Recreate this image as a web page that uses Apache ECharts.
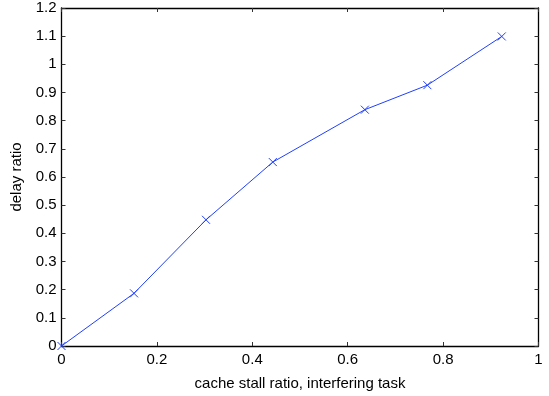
<!DOCTYPE html>
<html><head><meta charset="utf-8">
<script src="https://cdn.jsdelivr.net/npm/echarts@6/dist/echarts.min.js"></script>
<style>html,body{margin:0;padding:0;background:#fff}#c{width:549px;height:396px}</style>
</head><body><div id="c"></div>
<script>
const xValues = [0, 0.152, 0.303, 0.443, 0.636, 0.767, 0.923];
const yValues = [0, 0.187, 0.448, 0.653, 0.839, 0.926, 1.099];
const xTicks = [0, 0.2, 0.4, 0.6, 0.8, 1];
const yTicks = [0, 0.1, 0.2, 0.3, 0.4, 0.5, 0.6, 0.7, 0.8, 0.9, 1, 1.1, 1.2];
const xName = 'cache stall ratio, interfering task';
const yName = 'delay ratio';

const font = 'Liberation Sans, Arial, sans-serif';
const lineC = '#000';
function fmt(v){ return String(Math.round(v*10)/10); }
function mkAxis(extra){
  return Object.assign({
    axisLine:{show:true, onZero:false, lineStyle:{color:lineC, width:1.3}},
    axisTick:{show:true, inside:true, length:4, lineStyle:{color:'#333', width:1}},
    splitLine:{show:false}
  }, extra);
}
const chart = echarts.init(document.getElementById('c'), null, {renderer:'canvas'});
chart.setOption({
  animation:false,
  grid:{left:61.5, right:10.5, top:8, bottom:43},
  xAxis:[
    mkAxis({type:'value', min:0, max:1, interval:0.2, position:'bottom',
      name:xName, nameLocation:'middle', nameGap:30,
      nameTextStyle:{fontFamily:font, fontSize:15, color:'#000'},
      axisLabel:{fontFamily:font, fontSize:15, color:'#000', margin:6, formatter:fmt}}),
    mkAxis({type:'value', min:0, max:1, interval:0.2, position:'top',
      axisLabel:{show:false}})
  ],
  yAxis:[
    mkAxis({type:'value', min:0, max:1.2, interval:0.1, position:'left',
      name:yName, nameLocation:'middle', nameGap:34,
      nameTextStyle:{fontFamily:font, fontSize:15, color:'#000'},
      axisLabel:{fontFamily:font, fontSize:15, color:'#000', margin:5, formatter:fmt}}),
    mkAxis({type:'value', min:0, max:1.2, interval:0.1, position:'right',
      axisLabel:{show:false}})
  ],
  series:[{
    type:'line',
    data: xValues.map((x,i)=>[x, yValues[i]]),
    symbol:'path://M0,0L10,10M10,0L0,10',
    symbolSize:8,
    showAllSymbol:true,
    lineStyle:{color:'#1f3fff', width:1},
    itemStyle:{color:'none', borderColor:'#1f3fff', borderWidth:1},
    clip:false
  }]
});
</script></body></html>
